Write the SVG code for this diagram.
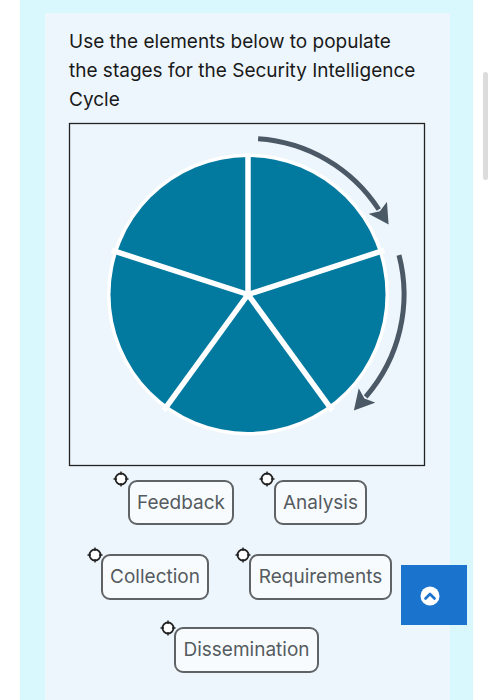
<svg xmlns="http://www.w3.org/2000/svg" width="494" height="700" viewBox="0 0 494 700">
<defs>
<style>
.title{font-family:Inter,"Liberation Sans",Arial,sans-serif;font-size:19px;fill:#1a1a1a}
.lbl{font-family:Inter,"Liberation Sans",Arial,sans-serif;font-size:19px;fill:#555b60}
.chip{fill:#f8fbfe;stroke:#5f6366;stroke-width:2}
.arc{fill:none;stroke:#4b5866;stroke-width:5}
.div{stroke:#ffffff;stroke-width:5.5}
.hdl circle{fill:#fff;stroke:#222;stroke-width:1.8}
.hdl path{stroke:#222;stroke-width:1.4}
</style>
<marker id="ah" viewBox="0 0 20 22" refX="2" refY="11" markerWidth="20" markerHeight="22" markerUnits="userSpaceOnUse" orient="auto">
<path d="M0,0 L20,11 L0,22 L4,11 Z" fill="#4b5866"/>
</marker>
<g id="handle" class="hdl">
<circle cx="0" cy="0" r="5.5"/>
<path d="M0,-7.5 V-4 M0,4 V7.5 M-7.5,0 H-4 M4,0 H7.5"/>
</g>
</defs>
<rect x="0" y="0" width="494" height="700" fill="#ffffff"/>
<rect x="20" y="0" width="453" height="700" fill="#d8f8fd"/>
<rect x="45" y="13" width="405" height="687" fill="#eef6fd"/>
<rect x="483" y="72" width="5" height="108" rx="2.5" fill="#dcdcdc"/>
<g id="title">
<text class="title" x="69" y="48">Use the elements below to populate</text>
<text class="title" x="69" y="77">the stages for the Security Intelligence</text>
<text class="title" x="69" y="106">Cycle</text>
</g>
<g id="cycle">
<rect x="69.5" y="123.5" width="355" height="342" fill="#eef6fd" stroke="#222" stroke-width="1.3"/>
<circle cx="248" cy="294.5" r="141" fill="#ffffff"/>
<circle cx="248" cy="294.5" r="137.5" fill="#02799f"/>
<line class="div" x1="248" y1="294.5" x2="248" y2="153"/>
<line class="div" x1="248" y1="294.5" x2="384.5" y2="250.2"/>
<line class="div" x1="248" y1="294.5" x2="332.4" y2="410.6"/>
<line class="div" x1="248" y1="294.5" x2="163.6" y2="410.6"/>
<line class="div" x1="248" y1="294.5" x2="111.5" y2="250.2"/>
</g>
<g id="connectors">
<path class="arc" d="M258.1,138.8 A156,156 0 0 1 378.8,209.5" marker-end="url(#ah)"/>
<path class="arc" d="M399,255.2 A156,156 0 0 1 365.7,396.9" marker-end="url(#ah)"/>
</g>
<g id="feedback">
<rect class="chip" x="129" y="481" width="104" height="43" rx="8"/>
<text class="lbl" x="181" y="509" text-anchor="middle">Feedback</text>
<use href="#handle" x="121" y="479"/>
</g>
<g id="analysis">
<rect class="chip" x="275" y="481" width="91" height="43" rx="8"/>
<text class="lbl" x="320.5" y="509" text-anchor="middle">Analysis</text>
<use href="#handle" x="267" y="479"/>
</g>
<g id="collection">
<rect class="chip" x="102" y="555" width="106" height="44" rx="8"/>
<text class="lbl" x="155" y="583" text-anchor="middle">Collection</text>
<use href="#handle" x="95" y="555"/>
</g>
<g id="requirements">
<rect class="chip" x="250" y="555" width="141" height="44" rx="8"/>
<text class="lbl" x="320.5" y="583" text-anchor="middle">Requirements</text>
<use href="#handle" x="243" y="555"/>
</g>
<g id="dissemination">
<rect class="chip" x="175" y="628" width="143" height="44" rx="8"/>
<text class="lbl" x="246.5" y="656" text-anchor="middle">Dissemination</text>
<use href="#handle" x="168" y="628"/>
</g>
<g id="scrolltop">
<rect x="401" y="565" width="66" height="60" fill="#1a73cd"/>
<circle cx="430" cy="596" r="9.5" fill="#ffffff"/>
<path d="M425.5,598.5 L430,594 L434.5,598.5" fill="none" stroke="#1a73cd" stroke-width="2.6" stroke-linecap="round" stroke-linejoin="round"/>
</g>
</svg>
